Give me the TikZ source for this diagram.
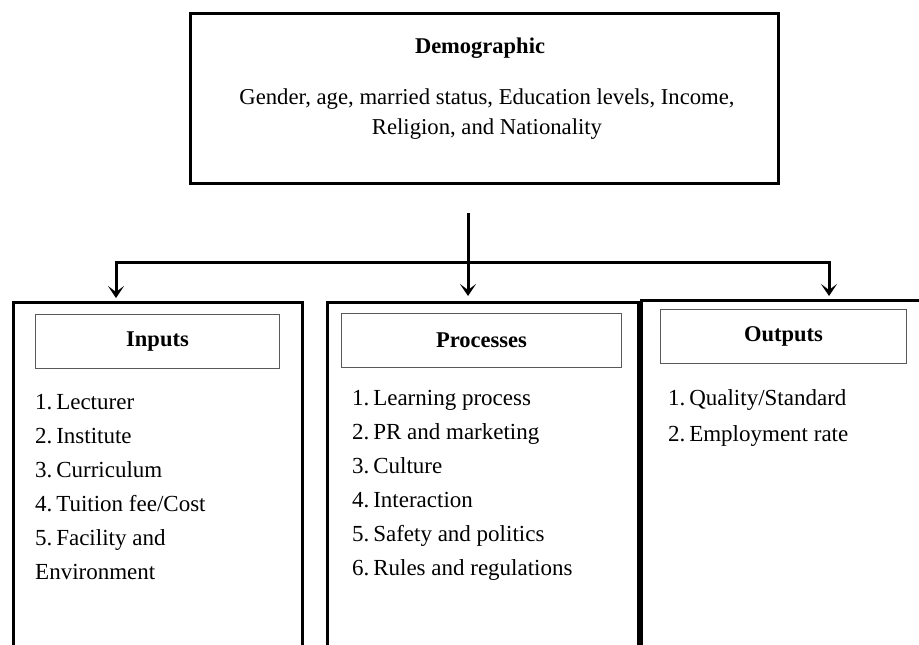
\documentclass[tikz,border=0pt]{standalone}
\usepackage{fontspec}
\setmainfont{Liberation Serif}
\usetikzlibrary{arrows.meta}
\begin{document}
\begin{tikzpicture}[x=1pt,y=-1pt,
  outerbox/.style={draw=black, line width=3pt, anchor=north west, inner sep=0pt},
  headbox/.style={draw=black!65, line width=1pt, anchor=north west, inner sep=0pt,
    font=\fontsize{22.5}{25}\selectfont\bfseries},
  itemlist/.style={anchor=north west, align=left, inner sep=0pt,
    font=\fontsize{23}{34}\selectfont},
  link/.style={line width=3pt},
  arr/.style={line width=3pt, -{Stealth[length=12pt,width=16pt,inset=6pt]}}]
\useasboundingbox (0,0) rectangle (919,645);
\clip (0,0) rectangle (919,645);
% top box
\fill[black!35] (192,15) rectangle (780,185);
\node[outerbox, fill=white, minimum width=588pt, minimum height=170pt] (demo) at (189,12) {};
\node[font=\fontsize{22.5}{25}\selectfont\bfseries] (demotitle) at (480,48) {Demographic};
\node[align=center, font=\fontsize{22.7}{30}\selectfont] (demotext) at (487,114)
  {Gender, age, married status, Education levels, Income,\\Religion, and Nationality};
% columns
\node[outerbox, minimum width=289pt, minimum height=400pt] (inbox) at (12,301) {};
\node[outerbox, minimum width=311pt, minimum height=400pt] (procbox) at (326,301) {};
\node[outerbox, minimum width=320pt, minimum height=400pt] (outbox) at (640,299) {};
\node[headbox, minimum width=244pt, minimum height=54pt] (inhead) at (35,314) {Inputs};
\node[headbox, minimum width=280pt, minimum height=54pt] (prochead) at (341,313) {Processes};
\node[headbox, minimum width=246pt, minimum height=54pt] (outhead) at (660,309) {Outputs};
\node[itemlist] (initems) at (35,394) {1.\,Lecturer\\2.\,Institute\\3.\,Curriculum\\4.\,Tuition fee/Cost\\5.\,Facility and\\Environment};
\node[itemlist] (procitems) at (352,390) {1.\,Learning process\\2.\,PR and marketing\\3.\,Culture\\4.\,Interaction\\5.\,Safety and politics\\6.\,Rules and regulations};
\node[itemlist, font=\fontsize{23}{36.5}\selectfont] (outitems) at (668,389) {1.\,Quality/Standard\\2.\,Employment rate};
% connectors
\coordinate (stem) at (468,213);
\coordinate (hj) at (468,262);
\coordinate (hl) at (116,262);
\coordinate (hr) at (829,262);
\draw[link] (stem) -- (hj);
\draw[link, line cap=rect] (hl) -- (hr);
\draw[arr, shorten >=3pt] (hl) -- (hl |- inbox.north);
\draw[arr, shorten >=5pt] (hj) -- (hj |- procbox.north);
\draw[arr, shorten >=3pt] (hr) -- (hr |- outbox.north);
\end{tikzpicture}
\end{document}
